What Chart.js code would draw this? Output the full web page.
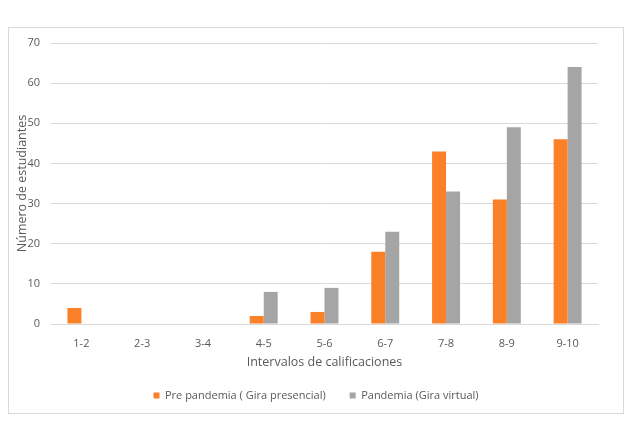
<!DOCTYPE html>
<html>
<head>
<meta charset="utf-8">
<script src="https://cdn.jsdelivr.net/npm/chart.js@4/dist/chart.umd.min.js"></script>
<style>
  html, body { margin: 0; padding: 0; background: #fff; }
  #wrap { width: 637px; height: 435px; }
</style>
</head>
<body>
<div id="wrap"><canvas id="gradesChart" width="637" height="435"></canvas></div>
<script>
// Intervalos de calificaciones y número de estudiantes
const intervalos = ['1-2', '2-3', '3-4', '4-5', '5-6', '6-7', '7-8', '8-9', '9-10'];
const prePandemia = [4, 0, 0, 2, 3, 18, 43, 31, 46];
const pandemia = [0, 0, 0, 8, 9, 23, 33, 49, 64];
const yTicks = [0, 10, 20, 30, 40, 50, 60, 70];

const textColor = '#595959';
const gridColor = '#d9d9d9';

// marco gris alrededor del gráfico
const framePlugin = {
    id: 'frame',
    beforeDraw(chart) {
        const ctx = chart.ctx;
        ctx.save();
        ctx.fillStyle = '#fff';
        ctx.fillRect(0, 0, chart.width, chart.height);
        ctx.strokeStyle = gridColor;
        ctx.lineWidth = 1;
        ctx.strokeRect(8.5, 27.5, 615, 386);
        ctx.restore();
    }
};

const ctx = document.getElementById('gradesChart').getContext('2d');
new Chart(ctx, {
    type: 'bar',
    data: {
        labels: intervalos,
        datasets: [
            {
                label: 'Pre pandemia ( Gira presencial)',
                data: prePandemia,
                backgroundColor: '#FA8128',
                categoryPercentage: 0.46,
                barPercentage: 1.0
            },
            {
                label: 'Pandemia (Gira virtual)',
                data: pandemia,
                backgroundColor: '#A5A5A5',
                categoryPercentage: 0.46,
                barPercentage: 1.0
            }
        ]
    },
    options: {
        responsive: false,
        animation: false,
        layout: { padding: { top: 43, left: 0, right: 5, bottom: 24 } },
        font: { family: 'Open Sans' },
        plugins: {
            tooltip: { enabled: false },
            legend: {
                position: 'bottom',
                labels: {
                    boxWidth: 6,
                    boxHeight: 6,
                    padding: 24,
                    color: textColor,
                    font: { family: 'Open Sans', size: 11 }
                }
            }
        },
        scales: {
            x: {
                grid: { display: false, drawTicks: false },
                border: { display: true, color: gridColor },
                ticks: {
                    color: textColor,
                    padding: 13,
                    font: { family: 'Open Sans', size: 11 }
                },
                title: {
                    display: true,
                    text: 'Intervalos de calificaciones',
                    color: textColor,
                    font: { family: 'Open Sans', size: 12.5 },
                    padding: { top: 0, bottom: -4 }
                },
                afterFit: function(scale) { scale.height = 42; }
            },
            y: {
                min: 0,
                max: 70,
                afterBuildTicks: function(scale) {
                    scale.ticks = yTicks.map(v => ({ value: v }));
                },
                grid: { color: gridColor, drawTicks: false },
                border: { display: false },
                ticks: {
                    color: textColor,
                    padding: 11,
                    font: { family: 'Open Sans', size: 11 }
                },
                title: {
                    display: true,
                    text: 'Número de estudiantes',
                    color: textColor,
                    font: { family: 'Open Sans', size: 12.5 },
                    padding: { top: 15, bottom: 0 }
                },
                afterFit: function(scale) { scale.width = 51; }
            },
            yRight: {
                type: 'linear',
                position: 'right',
                grid: { display: false, drawTicks: false },
                border: { display: false },
                ticks: { display: false },
                afterFit: function(scale) { scale.width = 34; }
            }
        }
    },
    plugins: [framePlugin]
});
</script>
</body>
</html>
